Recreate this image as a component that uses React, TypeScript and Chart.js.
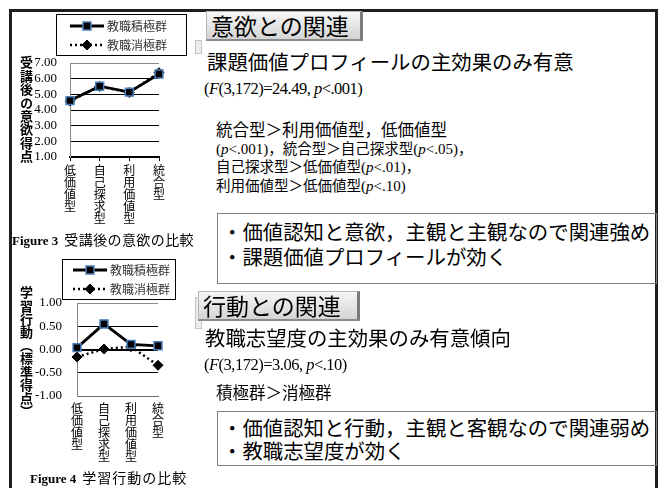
import React, { useEffect, useRef } from "react";
import { Chart, registerables } from "chart.js";

Chart.register(...registerables);

// ---------- data ----------
const categories: string[][] = [
  ["低", "価", "値", "型"],
  ["自", "己", "探", "求", "型"],
  ["利", "用", "価", "値", "型"],
  ["統", "合", "型"],
];
const seriesLabels = ["教職積極群", "教職消極群"];

const motivationActive = [4.6, 5.52, 5.14, 6.3];
const motivationPassive = [4.57, 5.5, 5.12, 6.38];
const motivationTicks = [1, 2, 3, 4, 5, 6, 7];

const behaviorActive = [0.04, 0.55, 0.11, 0.08];
const behaviorPassive = [-0.16, 0.01, 0.06, -0.34];
const behaviorTicks = [-1, -0.5, 0, 0.5, 1];

const JP = "'Noto Sans CJK JP', sans-serif";
const SERIF = "'Liberation Serif', 'Times New Roman', serif";

// ---------- legend plugin ----------
const boxLegend = {
  id: "boxLegend",
  afterDraw(chart: any, _args: any, opts: any) {
    const ctx = chart.ctx as CanvasRenderingContext2D;
    ctx.save();
    ctx.strokeStyle = "#000";
    ctx.lineWidth = 1;
    ctx.strokeRect(opts.x + 0.5, opts.y + 0.5, opts.w, opts.h);
    chart.data.datasets.forEach((ds: any, i: number) => {
      const y = opts.rows[i];
      ctx.beginPath();
      ctx.setLineDash(ds.borderDash || []);
      ctx.lineWidth = ds.borderWidth;
      ctx.strokeStyle = ds.borderColor;
      ctx.moveTo(opts.x1, y);
      ctx.lineTo(opts.x2, y);
      ctx.stroke();
      ctx.setLineDash([]);
      const cx = (opts.x1 + opts.x2) / 2;
      ctx.fillStyle = ds.pointBackgroundColor;
      ctx.strokeStyle = ds.pointBorderColor;
      ctx.lineWidth = ds.pointBorderWidth;
      ctx.beginPath();
      if (ds.pointStyle === "rect") {
        const s = ds.pointRadius * Math.SQRT1_2;
        ctx.rect(cx - s, y - s, 2 * s, 2 * s);
      } else {
        const r = ds.pointRadius;
        ctx.moveTo(cx - r, y);
        ctx.lineTo(cx, y - r);
        ctx.lineTo(cx + r, y);
        ctx.lineTo(cx, y + r);
        ctx.closePath();
      }
      ctx.fill();
      ctx.stroke();
      ctx.fillStyle = "#333";
      ctx.font = `12px ${JP}`;
      ctx.textBaseline = "middle";
      ctx.textAlign = "left";
      ctx.fillText(ds.label, opts.tx, y + 0.5);
    });
    ctx.restore();
  },
};

type Cfg = {
  active: number[];
  passive: number[];
  ticks: number[];
  zero?: number;
  padTop: number;
  padRight: number;
  yWidth: number;
  xHeight: number;
  yPad: number;
  xTickLen: number;
  xPad: number;
  xBorderColor: string;
  xBorderWidth: number;
  legend: any;
};

function makeConfig(c: Cfg): any {
  const min = c.ticks[0];
  const max = c.ticks[c.ticks.length - 1];
  return {
    type: "line",
    data: {
      labels: categories,
      datasets: [
        {
          label: seriesLabels[0],
          data: c.active,
          borderColor: "#000",
          borderWidth: 2.8,
          pointStyle: "rect",
          pointRadius: 5.6,
          pointBackgroundColor: "#000",
          pointBorderColor: "#4a7ebb",
          pointBorderWidth: 1.5,
          tension: 0,
        },
        {
          label: seriesLabels[1],
          data: c.passive,
          borderColor: "#000",
          borderWidth: 2.5,
          borderDash: [2, 3],
          pointStyle: "rectRot",
          pointRadius: 5,
          pointBackgroundColor: "#000",
          pointBorderColor: "#000",
          pointBorderWidth: 1,
          tension: 0,
        },
      ],
    },
    options: {
      animation: false,
      responsive: false,
      maintainAspectRatio: false,
      layout: { padding: { top: c.padTop, right: c.padRight, left: 0, bottom: 0 } },
      plugins: {
        legend: { display: false },
        tooltip: { enabled: false },
        boxLegend: c.legend,
      },
      scales: {
        x: {
          type: "category",
          offset: false,
          grid: {
            drawOnChartArea: false,
            drawTicks: c.xTickLen > 0,
            tickLength: c.xTickLen,
            color: "#000",
          },
          border: { display: true, color: c.xBorderColor, width: c.xBorderWidth },
          ticks: {
            padding: c.xPad,
            color: "#000",
            maxRotation: 0,
            minRotation: 0,
            autoSkip: false,
            font: { family: JP, size: 12, lineHeight: 1.0 },
          },
          afterFit: (s: any) => {
            s.height = c.xHeight;
          },
        },
        y: {
          min,
          max,
          afterBuildTicks: (s: any) => {
            s.ticks = c.ticks.map((v) => ({ value: v }));
          },
          ticks: {
            padding: c.yPad,
            color: "#000",
            autoSkip: false,
            font: { family: SERIF, size: 13 },
            callback: (v: any) => {
              const n = Number(v);
              return (Math.abs(n) < 1e-9 ? 0 : n).toFixed(2);
            },
          },
          grid: {
            drawTicks: false,
            color: (ctx: any) => (ctx.tick && ctx.tick.value === max ? "#8a8a8a" : "#000"),
            lineWidth: (ctx: any) =>
              ctx.tick && c.zero !== undefined && ctx.tick.value === c.zero ? 2 : 1,
          },
          border: { display: true, color: "#868686", width: 1 },
          afterFit: (s: any) => {
            s.width = c.yWidth;
          },
        },
      },
    },
    plugins: [boxLegend],
  };
}

function LineChart(props: { cfg: Cfg; left: number; top: number; width: number; height: number }) {
  const ref = useRef<HTMLCanvasElement>(null);
  useEffect(() => {
    const chart = new Chart(ref.current as HTMLCanvasElement, makeConfig(props.cfg));
    return () => chart.destroy();
  }, []);
  return (
    <canvas
      ref={ref}
      width={props.width}
      height={props.height}
      style={{
        position: "absolute",
        left: props.left,
        top: props.top,
        width: props.width,
        height: props.height,
      }}
    />
  );
}

function Txt(props: { x: number; cy: number; size: number; children: any; style?: any }) {
  return (
    <div
      style={{
        position: "absolute",
        left: props.x,
        top: props.cy - props.size * 0.55,
        fontSize: props.size,
        lineHeight: 1,
        whiteSpace: "nowrap",
        fontFamily: JP,
        color: "#000",
        ...(props.style || {}),
      }}
    >
      {props.children}
    </div>
  );
}

function Header(props: { x: number; y: number; w: number; h: number; text: string }) {
  return (
    <div
      style={{
        position: "absolute",
        left: props.x,
        top: props.y,
        width: props.w,
        height: props.h,
        boxSizing: "border-box",
        borderTop: "1px solid #b5b5b5",
        borderLeft: "1px solid #b5b5b5",
        borderRight: "3px solid #7a7a7a",
        borderBottom: "2px solid #8a8a8a",
        background: "linear-gradient(#f6f6f6, #d4d4d4)",
        fontFamily: JP,
        fontSize: 23,
        lineHeight: 1,
        display: "flex",
        alignItems: "center",
        paddingLeft: 4,
        whiteSpace: "nowrap",
      }}
    >
      {props.text}
    </div>
  );
}

function Box(props: { x: number; y: number; w: number; h: number }) {
  return (
    <div
      style={{
        position: "absolute",
        left: props.x,
        top: props.y,
        width: props.w,
        height: props.h,
        boxSizing: "border-box",
        border: "1px solid #7f7f7f",
      }}
    />
  );
}

const Sp = (props: { children: any }) => (
  <span style={{ fontFamily: SERIF, fontSize: 15 }}>{props.children}</span>
);
const I = (props: { children: any }) => <i style={{ fontFamily: SERIF }}>{props.children}</i>;

const chart1: Cfg = {
  active: motivationActive,
  passive: motivationPassive,
  ticks: motivationTicks,
  padTop: 53,
  padRight: 41,
  yWidth: 60,
  xHeight: 75,
  yPad: 13,
  xTickLen: 4,
  xPad: 3,
  xBorderColor: "#000",
  xBorderWidth: 2,
  legend: { x: 46, y: 4, w: 130, h: 41, rows: [16, 35], x1: 60, x2: 94, tx: 97 },
};

const chart2: Cfg = {
  active: behaviorActive,
  passive: behaviorPassive,
  ticks: behaviorTicks,
  zero: 0,
  padTop: 53,
  padRight: 42,
  yWidth: 67,
  xHeight: 92,
  yPad: 15,
  xTickLen: 0,
  xPad: 6,
  xBorderColor: "#6a6a6a",
  xBorderWidth: 1,
  legend: { x: 52, y: 9, w: 113, h: 40, rows: [20, 39], x1: 63, x2: 97, tx: 100 },
};

export default function App() {
  return (
    <div
      style={{
        position: "absolute",
        left: 0,
        top: 0,
        width: 670,
        height: 488,
        background: "#fff",
        overflow: "hidden",
      }}
    >
      {/* outer frame */}
      <div
        style={{
          position: "absolute",
          left: 9,
          top: 9,
          width: 649,
          height: 520,
          boxSizing: "border-box",
          border: "3px solid #1e1e1e",
        }}
      />

      {/* small grey marks */}
      <div style={{ position: "absolute", left: 195, top: 40, width: 5, height: 12, background: "#ececec", border: "1px solid #c4c4c4" }} />
      <div style={{ position: "absolute", left: 195, top: 297, width: 5, height: 30, background: "#ececec", border: "1px solid #c4c4c4" }} />

      {/* chart 1 */}
      <LineChart cfg={chart1} left={10} top={10} width={190} height={222} />
      <div
        style={{
          position: "absolute",
          left: 19,
          top: 56,
          writingMode: "vertical-rl",
          fontFamily: JP,
          fontWeight: 700,
          fontSize: 13,
          lineHeight: "14px",
          letterSpacing: 0.4,
        }}
      >
        受講後の意欲得点
      </div>
      <div style={{ position: "absolute", left: 12, top: 232, whiteSpace: "nowrap", lineHeight: 1 }}>
        <span style={{ fontFamily: SERIF, fontWeight: 700, fontSize: 13 }}>Figure 3</span>
        <span style={{ fontFamily: JP, fontSize: 14, letterSpacing: 0.4, marginLeft: 6 }}>受講後の意欲の比較</span>
      </div>

      {/* chart 2 */}
      <LineChart cfg={chart2} left={10} top={250} width={190} height={238} />
      <div
        style={{
          position: "absolute",
          left: 19,
          top: 286,
          writingMode: "vertical-rl",
          fontFamily: JP,
          fontWeight: 700,
          fontSize: 13,
          lineHeight: "14px",
          letterSpacing: 0.2,
        }}
      >
        学習行動（標準得点）
      </div>
      <div style={{ position: "absolute", left: 30, top: 470, whiteSpace: "nowrap", lineHeight: 1 }}>
        <span style={{ fontFamily: SERIF, fontWeight: 700, fontSize: 13 }}>Figure 4</span>
        <span style={{ fontFamily: JP, fontSize: 14, letterSpacing: 1, marginLeft: 6 }}>学習行動の比較</span>
      </div>

      {/* right panel: motivation */}
      <Header x={206} y={11} w={157} h={30} text="意欲との関連" />
      <Txt x={207} cy={62} size={20.4}>課題価値プロフィールの主効果のみ有意</Txt>
      <Txt x={204} cy={90} size={16.5} style={{ fontFamily: SERIF, letterSpacing: -0.5 }}>
        (<I>F</I>(3,172)=24.49, <I>p</I>&lt;.001)
      </Txt>
      <Txt x={216} cy={130} size={16.5}>統合型＞利用価値型，低価値型</Txt>
      <Txt x={216} cy={149} size={14.5}>
        <Sp>
          (<I>p</I>&lt;.001)
        </Sp>
        ，統合型＞自己探求型
        <Sp>
          (<I>p</I>&lt;.05)
        </Sp>
        ，
      </Txt>
      <Txt x={216} cy={167} size={14.5}>
        自己探求型＞低価値型
        <Sp>
          (<I>p</I>&lt;.01)
        </Sp>
        ，
      </Txt>
      <Txt x={216} cy={186} size={14.5}>
        利用価値型＞低価値型
        <Sp>
          (<I>p</I>&lt;.10)
        </Sp>
      </Txt>
      <Box x={217} y={213} w={440} h={71} />
      <Txt x={222} cy={232} size={20.4}>・価値認知と意欲，主観と主観なので関連強め</Txt>
      <Txt x={222} cy={257} size={20.4}>・課題価値プロフィールが効く</Txt>

      {/* right panel: behaviour */}
      <Header x={198} y={291} w={162} h={30} text="行動との関連" />
      <Txt x={205} cy={338} size={20.4}>教職志望度の主効果のみ有意傾向</Txt>
      <Txt x={204} cy={366} size={16.5} style={{ fontFamily: SERIF, letterSpacing: -0.5 }}>
        (<I>F</I>(3,172)=3.06, <I>p</I>&lt;.10)
      </Txt>
      <Txt x={216} cy={393} size={16.5}>積極群＞消極群</Txt>
      <Box x={217} y={411} w={440} h={55} />
      <Txt x={222} cy={428} size={20.4}>・価値認知と行動，主観と客観なので関連弱め</Txt>
      <Txt x={222} cy={451} size={20.4}>・教職志望度が効く</Txt>
    </div>
  );
}
